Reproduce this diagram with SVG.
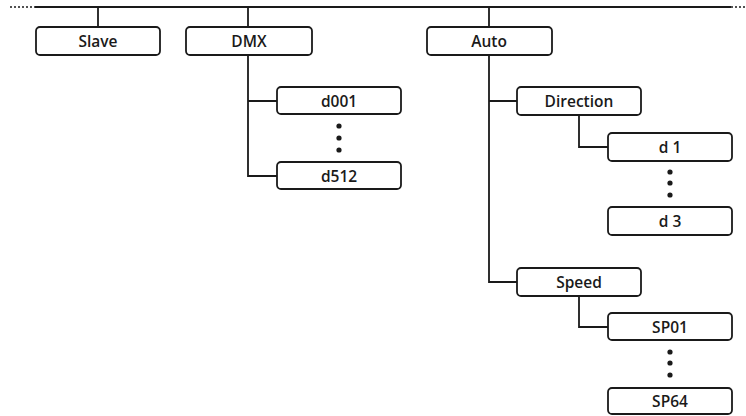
<svg xmlns="http://www.w3.org/2000/svg" width="746" height="416" viewBox="0 0 746 416">
<style>
.box{fill:#fff;stroke:#1a1a1a;stroke-width:1.8}
.ln{fill:none;stroke:#1a1a1a;stroke-width:1.8}
.dt{fill:none;stroke:#1a1a1a;stroke-width:1.6;stroke-dasharray:2 2}
text{font-family:"Open Sans","Noto Sans","Liberation Sans",sans-serif;font-size:15.5px;font-weight:600;fill:#1a1a1a;text-anchor:middle}
.dot{fill:#1a1a1a}
</style>
<rect width="746" height="416" fill="#fff"/>
<g id="connectors">
<line class="dt" x1="10" y1="7" x2="35" y2="7"/>
<line class="ln" x1="35" y1="7" x2="731" y2="7"/>
<line class="dt" x1="731" y1="7" x2="746" y2="7"/>
<line class="ln" x1="98" y1="7" x2="98" y2="27"/>
<line class="ln" x1="248" y1="7" x2="248" y2="27"/>
<line class="ln" x1="489" y1="7" x2="489" y2="27"/>
<path class="ln" d="M248 55 V176 H277 M248 101 H277"/>
<path class="ln" d="M489 55 V282 H517 M489 101 H517"/>
<path class="ln" d="M579 115 V147 H608"/>
<path class="ln" d="M579 296 V327 H608"/>
</g>
<g id="slave"><rect class="box" x="36" y="27" width="124" height="28" rx="4"/><text x="98" y="46.5">Slave</text></g>
<g id="dmx"><rect class="box" x="186" y="27" width="126" height="28" rx="4"/><text x="249" y="46.5">DMX</text></g>
<g id="auto"><rect class="box" x="427" y="27" width="125" height="28" rx="4"/><text x="489" y="46.5">Auto</text></g>
<g id="d001"><rect class="box" x="277" y="87" width="124" height="27" rx="4"/><text x="339" y="106.5">d001</text></g>
<g id="dmx-dots"><circle class="dot" cx="339" cy="126" r="2.6"/><circle class="dot" cx="339" cy="138" r="2.6"/><circle class="dot" cx="339" cy="150" r="2.6"/></g>
<g id="d512"><rect class="box" x="277" y="162" width="124" height="27" rx="4"/><text x="339" y="181.5">d512</text></g>
<g id="direction"><rect class="box" x="517" y="87" width="124" height="28" rx="4"/><text x="579" y="106.5">Direction</text></g>
<g id="d1"><rect class="box" x="608" y="133" width="124" height="28" rx="4"/><text x="670" y="152.5">d 1</text></g>
<g id="dir-dots"><circle class="dot" cx="670" cy="172" r="2.6"/><circle class="dot" cx="670" cy="183" r="2.6"/><circle class="dot" cx="670" cy="195" r="2.6"/></g>
<g id="d3"><rect class="box" x="608" y="207" width="124" height="28" rx="4"/><text x="670" y="226.5">d 3</text></g>
<g id="speed"><rect class="box" x="517" y="268" width="124" height="28" rx="4"/><text x="579" y="287.5">Speed</text></g>
<g id="sp01"><rect class="box" x="608" y="313" width="124" height="27" rx="4"/><text x="670" y="332.5">SP01</text></g>
<g id="sp-dots"><circle class="dot" cx="670" cy="352" r="2.6"/><circle class="dot" cx="670" cy="363" r="2.6"/><circle class="dot" cx="670" cy="375" r="2.6"/></g>
<g id="sp64"><rect class="box" x="608" y="388" width="124" height="26" rx="4"/><text x="670" y="406.5">SP64</text></g>
</svg>
